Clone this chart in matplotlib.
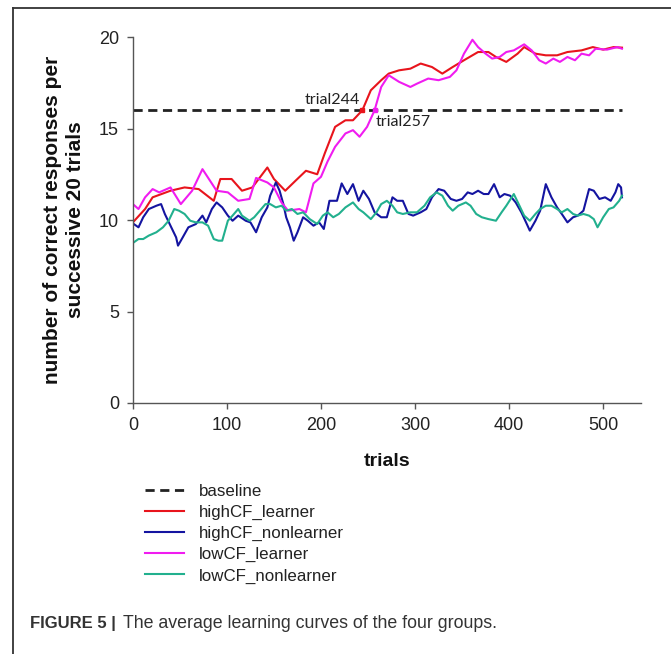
import matplotlib
matplotlib.use("Agg")
import matplotlib.pyplot as plt
from matplotlib.lines import Line2D

plt.rcParams['font.family'] = ['Liberation Sans', 'DejaVu Sans']

# values (trial, correct responses per 20 trials)
baseline = 16

hl_t = [0, 13, 21, 40, 55, 70, 86, 93, 105, 116, 127, 143, 150, 162, 173, 184, 196,
        204, 215, 226, 234, 244, 253, 264, 272, 283, 295, 306, 318, 329, 340, 352,
        367, 378, 386, 397, 409, 416, 428, 439, 451, 462, 477, 489, 500, 511, 520]
hl_v = [9.87, 10.6, 11.24, 11.6, 11.78, 11.69, 11.05, 12.24, 12.24, 11.6, 11.78, 12.87,
        12.24, 11.6, 12.15, 12.69, 12.5, 13.64, 15.09, 15.45, 15.45, 16.0, 17.09, 17.64,
        18.0, 18.18, 18.27, 18.55, 18.36, 18.0, 18.36, 18.73, 19.18, 19.18, 18.91, 18.64,
        19.09, 19.45, 19.09, 19.0, 19.0, 19.18, 19.27, 19.45, 19.31, 19.45, 19.42]

hn_t = [1, 6, 11, 17, 25, 30, 34, 40, 46, 48, 53, 59, 67, 74, 78, 84, 89, 95, 101, 106,
        112, 120, 125, 131, 137, 143, 146, 152, 156, 160, 163, 167, 171, 175, 181, 186,
        192, 198, 203, 209, 217, 222, 228, 234, 240, 245, 251, 257, 264, 270, 276, 281,
        287, 293, 298, 306, 312, 318, 325, 331, 338, 344, 350, 356, 361, 367, 373, 378,
        384, 390, 395, 401, 407, 413, 418, 422, 428, 433, 439, 445, 451, 456, 462, 468,
        473, 479, 485, 490, 496, 502, 508, 513, 516, 519, 520]
hn_v = [9.78, 9.6, 10.15, 10.6, 10.78, 10.87, 10.33, 9.69, 9.05, 8.6, 9.05, 9.6, 9.78,
        10.24, 9.87, 10.6, 10.96, 10.69, 10.24, 9.96, 10.24, 9.96, 9.87, 9.33, 10.15,
        10.69, 11.33, 12.05, 11.6, 10.87, 10.15, 9.6, 8.87, 9.33, 10.15, 9.96, 9.69,
        9.87, 9.51, 11.05, 11.05, 12.0, 11.42, 11.96, 11.05, 11.6, 11.15, 10.42, 10.15,
        10.15, 11.24, 11.05, 11.05, 10.33, 10.24, 10.42, 10.6, 11.24, 11.69, 11.6, 11.15,
        11.05, 11.15, 11.51, 11.42, 11.6, 11.42, 11.42, 11.96, 11.24, 11.42, 11.33,
        10.96, 10.42, 9.87, 9.42, 9.96, 10.51, 11.96, 11.24, 10.69, 10.33, 9.87, 10.15,
        10.24, 10.51, 11.69, 11.6, 11.15, 11.24, 11.05, 11.51, 11.96, 11.78, 11.24]

ll_t = [0, 6, 13, 21, 28, 40, 51, 63, 74, 82, 89, 101, 112, 124, 131, 143, 150, 158,
        165, 177, 184, 192, 200, 207, 215, 226, 234, 241, 249, 257, 264, 272, 283, 295,
        302, 314, 325, 337, 344, 352, 361, 367, 375, 382, 390, 397, 405, 416, 424, 432,
        439, 447, 454, 462, 470, 477, 485, 492, 504, 515, 520]
ll_v = [10.87, 10.6, 11.24, 11.69, 11.51, 11.78, 10.87, 11.6, 12.78, 12.15, 11.6, 11.51,
        11.05, 11.15, 12.3, 12.05, 11.78, 10.96, 10.51, 10.6, 10.42, 12.0, 12.36, 13.2,
        14.0, 14.73, 14.91, 14.55, 15.09, 16.0, 17.27, 17.91, 17.55, 17.27, 17.45, 17.73,
        17.64, 17.82, 18.18, 19.09, 19.85, 19.45, 19.09, 18.82, 18.91, 19.18, 19.27, 19.6,
        19.27, 18.73, 18.55, 18.82, 18.64, 18.91, 18.73, 19.09, 19.0, 19.36, 19.31, 19.45,
        19.36]

ln_t = [1, 6, 11, 17, 25, 32, 38, 44, 49, 55, 61, 67, 74, 80, 86, 91, 95, 101, 106, 112,
        116, 124, 129, 135, 141, 146, 152, 158, 163, 169, 175, 181, 188, 196, 202, 207,
        213, 219, 226, 234, 240, 245, 253, 259, 264, 270, 276, 281, 287, 295, 302, 310,
        316, 323, 329, 335, 340, 346, 354, 359, 365, 371, 378, 386, 392, 397, 405, 411,
        416, 422, 428, 433, 439, 445, 451, 456, 462, 468, 473, 479, 485, 490, 494, 500,
        506, 511, 517, 520]
ln_v = [8.78, 8.96, 8.96, 9.15, 9.33, 9.6, 9.96, 10.6, 10.51, 10.33, 9.96, 9.87, 9.87,
        9.69, 8.96, 8.87, 8.87, 9.96, 10.24, 10.6, 10.24, 9.96, 10.15, 10.51, 10.87, 10.87,
        10.69, 10.78, 10.51, 10.6, 10.33, 10.42, 10.05, 9.78, 10.24, 10.42, 10.15, 10.33,
        10.69, 10.96, 10.6, 10.42, 10.05, 10.42, 10.87, 11.05, 10.78, 10.42, 10.33, 10.42,
        10.42, 10.78, 11.24, 11.51, 11.33, 10.78, 10.51, 10.78, 10.96, 10.78, 10.33, 10.15,
        10.05, 9.96, 10.42, 10.78, 11.42, 10.78, 10.24, 9.96, 10.33, 10.6, 10.78, 10.78,
        10.6, 10.42, 10.6, 10.33, 10.24, 10.33, 10.24, 10.05, 9.6, 10.15, 10.6, 10.69,
        11.05, 11.33]

cross_hl = 244
cross_ll = 257

fig = plt.figure(figsize=(6.71, 6.54), dpi=100)
ax = fig.add_axes([0.198, 0.3838, 0.757, 0.5596])

ax.plot([0, 520], [baseline, baseline], color='#222222', lw=2, ls=(0, (3.3, 2.0)), label='baseline')
ax.plot(hl_t, hl_v, color='#e8141c', lw=1.5, label='highCF_learner')
ax.plot(hn_t, hn_v, color='#1414a0', lw=1.5, label='highCF_nonlearner')
ax.plot(ll_t, ll_v, color='#f01cf0', lw=1.5, label='lowCF_learner')
ax.plot(ln_t, ln_v, color='#22b08e', lw=1.5, label='lowCF_nonlearner')
ax.plot([cross_hl], [baseline], 's', color='#e8141c', ms=3.5)
ax.plot([cross_ll], [baseline], 's', color='#f01cf0', ms=3.5)

ax.text(cross_hl - 2, baseline + 0.15, 'trial244', ha='right', va='bottom',
        fontsize=11.5, family='Lato', color='#222222')
ax.text(cross_ll + 1, baseline - 0.25, 'trial257', ha='left', va='top',
        fontsize=11.5, family='Lato', color='#222222')

ax.set_xlim(0, 540)
ax.set_ylim(0, 20)
ax.set_xticks([0, 100, 200, 300, 400, 500])
ax.set_yticks([0, 5, 10, 15, 20])
for s in ['top', 'right']:
    ax.spines[s].set_visible(False)
for s in ['left', 'bottom']:
    ax.spines[s].set_color('#555555')
    ax.spines[s].set_linewidth(1)
ax.tick_params(direction='out', length=4, width=1, color='#555555',
               labelsize=13, labelcolor='#222222', pad=6)
ax.set_xlabel('trials', fontsize=14, fontweight='bold', color='#111111', labelpad=14)
ax.set_ylabel('number of correct responses per\nsuccessive 20 trials', fontsize=15,
              fontweight='bold', color='#111111', linespacing=1.25, labelpad=10)

fig.legend(loc='upper left', bbox_to_anchor=(0.206, 0.271), frameon=False, fontsize=12.2,
           handlelength=2.3, labelspacing=0.36, handletextpad=0.9, borderaxespad=0,
           labelcolor='#222222')

# figure frame (top and left edges)
fig.add_artist(Line2D([0.02, 0.02], [0, 0.988], color='#333333', lw=1.3))
fig.add_artist(Line2D([0.02, 1.0], [0.988, 0.988], color='#333333', lw=1.3))

fig.text(0.045, 0.04, 'FIGURE 5 |', fontsize=12, fontweight='bold', color='#333333')
fig.text(0.184, 0.04, 'The average learning curves of the four groups.', fontsize=12.8,
         color='#333333')

fig.savefig('out.png', dpi=100)
